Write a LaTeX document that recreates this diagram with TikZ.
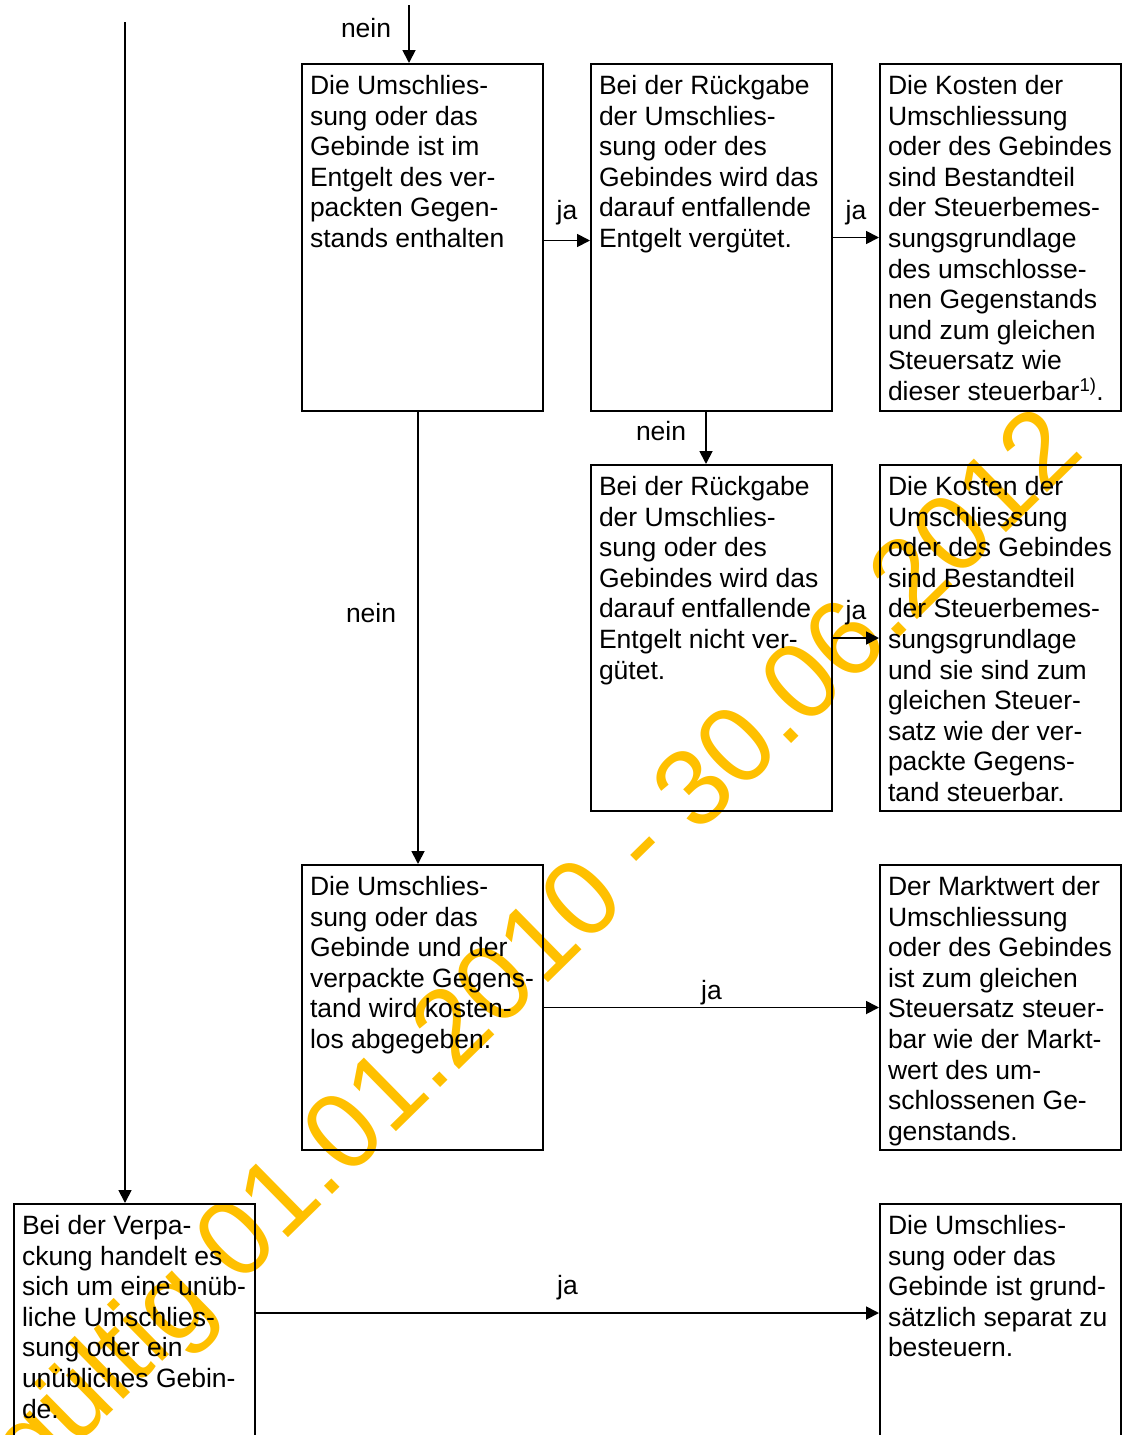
\documentclass[tikz,border=0pt]{standalone}
\usepackage{fontspec}
\setmainfont{Liberation Sans}
\usetikzlibrary{arrows.meta,positioning}
\definecolor{wmyellow}{RGB}{255,192,0}
\newcommand{\boxfont}{\fontsize{26.5}{30.6}\selectfont}
\newcommand{\boxtxt}[2]{\parbox[t][#1pt][t]{225pt}{\raggedright\rule{0pt}{30.5pt}#2}}

\begin{document}
\begin{tikzpicture}[x=1pt,y=-1pt,
  box/.style={draw, line width=2pt, anchor=north west, inner xsep=8pt, inner ysep=0pt, font=\boxfont},
  flow/.style={line width=1.8pt, -{Triangle[length=13pt,width=13pt]}},
  lbl/.style={inner sep=0pt, font=\boxfont}]
\useasboundingbox (0,0) rectangle (1129,1435);
\clip (0,0) rectangle (1129,1435);

\node[anchor=base west, rotate=44.5, inner sep=0pt, text=wmyellow, font=\fontsize{109}{120}\selectfont] (wm) at (32,1490) {gültig 01.01.2010 - 30.06.2012};

\node[box] (A) at (301,63) {\boxtxt{347}{Die Umschlies-\\sung oder das\\Gebinde ist im\\Entgelt des ver-\\packten Gegen-\\stands enthalten}};
\node[box] (B) at (590,63) {\boxtxt{347}{Bei der Rückgabe\\der Umschlies-\\sung oder des\\Gebindes wird das\\darauf entfallende\\Entgelt vergütet.}};
\node[box] (C) at (879,63) {\boxtxt{347}{Die Kosten der\\Umschliessung\\oder des Gebindes\\sind Bestandteil\\der Steuerbemes-\\sungsgrundlage\\des umschlosse-\\nen Gegenstands\\und zum gleichen\\Steuersatz wie\\dieser steuerbar\textsuperscript{1)}.}};
\node[box] (D) at (590,464) {\boxtxt{346}{Bei der Rückgabe\\der Umschlies-\\sung oder des\\Gebindes wird das\\darauf entfallende\\Entgelt nicht ver-\\gütet.}};
\node[box] (E) at (879,464) {\boxtxt{346}{Die Kosten der\\Umschliessung\\oder des Gebindes\\sind Bestandteil\\der Steuerbemes-\\sungsgrundlage\\und sie sind zum\\gleichen Steuer-\\satz wie der ver-\\packte Gegens-\\tand steuerbar.}};
\node[box] (F) at (301,864) {\boxtxt{285}{Die Umschlies-\\sung oder das\\Gebinde und der\\verpackte Gegens-\\tand wird kosten-\\los abgegeben.}};
\node[box] (G) at (879,864) {\boxtxt{285}{Der Marktwert der\\Umschliessung\\oder des Gebindes\\ist zum gleichen\\Steuersatz steuer-\\bar wie der Markt-\\wert des um-\\schlossenen Ge-\\genstands.}};
\node[box] (H) at (13,1203) {\boxtxt{300}{Bei der Verpa-\\ckung handelt es\\sich um eine unüb-\\liche Umschlies-\\sung oder ein\\unübliches Gebin-\\de.}};
\node[box] (I) at (879,1203) {\boxtxt{300}{Die Umschlies-\\sung oder das\\Gebinde ist grund-\\sätzlich separat zu\\besteuern.}};

\coordinate (top) at (409,5);
\coordinate (lt) at (125,22);
\coordinate (aright) at ([yshift=-3pt]A.east);
\coordinate (aout) at ([xshift=-4.5pt]A.south);
\coordinate (bout) at ([xshift=-5.5pt]B.south);
\coordinate (hout) at ([yshift=-110pt]H.north east);

\draw[flow] (top) -- (top |- A.north) node[lbl, pos=0.4, left=17pt] {nein};
\draw[flow] (lt) -- (lt |- H.north);
\draw[flow] (aright) -- (aright -| B.west) node[lbl, midway, above=15pt] {ja};
\draw[flow] (B.east) -- (B.east -| C.west) node[lbl, midway, above=12pt] {ja};
\draw[flow] (bout) -- (bout |- D.north) node[lbl, pos=0.37, left=19pt] {nein};
\draw[flow] (D.east) -- (D.east -| E.west) node[lbl, midway, above=12pt] {ja};
\draw[flow] (aout) -- (aout |- F.north) node[lbl, pos=0.445, left=21pt] {nein};
\draw[flow] (F.east) -- (F.east -| G.west) node[lbl, midway, above=2pt] {ja};
\draw[flow] (hout) -- (hout -| I.west) node[lbl, midway, above=12pt] {ja};
\end{tikzpicture}
\end{document}
